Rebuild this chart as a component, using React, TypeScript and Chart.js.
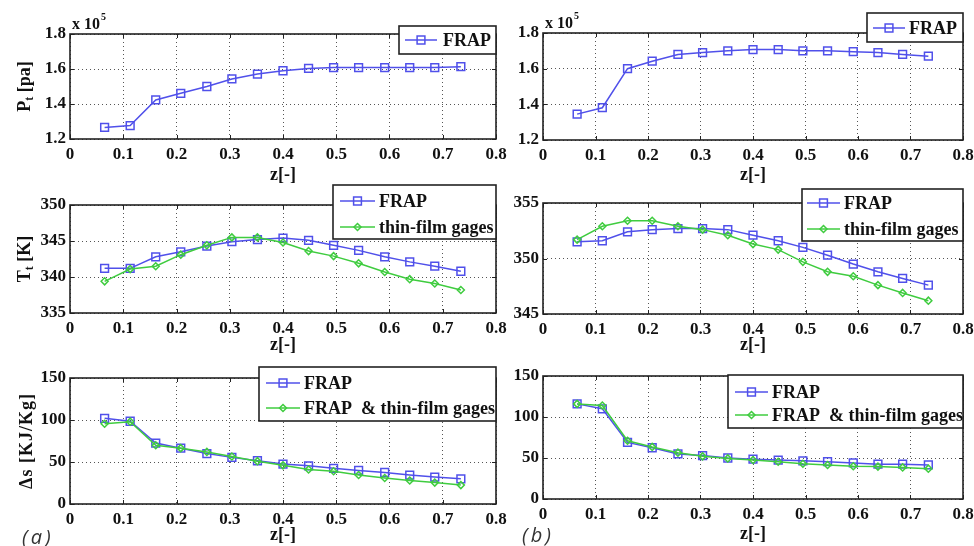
import React, { useEffect, useRef } from 'react';
import { Chart, registerables } from 'chart.js';

Chart.register(...registerables);

// ---------------- data ----------------
const zPositions = [0.065, 0.113, 0.161, 0.208, 0.257, 0.304, 0.352, 0.4, 0.448, 0.495, 0.542, 0.591, 0.638, 0.685, 0.734];
const xTicks = [0, 0.1, 0.2, 0.3, 0.4, 0.5, 0.6, 0.7, 0.8];

// total pressure, in units of 1e5 Pa
const ptFrapA = [1.266, 1.277, 1.423, 1.461, 1.5, 1.543, 1.571, 1.59, 1.603, 1.608, 1.608, 1.608, 1.608, 1.608, 1.613];
const ptFrapB = [1.345, 1.381, 1.6, 1.642, 1.68, 1.69, 1.7, 1.707, 1.707, 1.7, 1.7, 1.695, 1.69, 1.68, 1.67];
const ptTicks = [1.2, 1.4, 1.6, 1.8];

// total temperature [K]
const ttFrapA = [341.2, 341.2, 342.8, 343.5, 344.3, 344.9, 345.2, 345.4, 345.1, 344.4, 343.7, 342.8, 342.1, 341.5, 340.8];
const ttGagesA = [339.4, 341.1, 341.5, 343.1, 344.4, 345.5, 345.5, 344.8, 343.6, 342.9, 341.9, 340.7, 339.7, 339.1, 338.2];
const ttFrapB = [351.5, 351.6, 352.4, 352.6, 352.7, 352.7, 352.6, 352.1, 351.6, 351.0, 350.3, 349.5, 348.8, 348.2, 347.6];
const ttGagesB = [351.7, 352.9, 353.4, 353.4, 352.9, 352.6, 352.1, 351.3, 350.8, 349.7, 348.8, 348.4, 347.6, 346.9, 346.2];
const ttTicksA = [335, 340, 345, 350];
const ttTicksB = [345, 350, 355];

// entropy rise [KJ/Kg]
const dsFrapA = [102, 98.5, 72.5, 66.5, 60, 55.5, 51.5, 47.5, 45.5, 42.5, 40, 37.5, 34.5, 32, 30];
const dsGagesA = [95.5, 98, 70, 66.5, 62, 56.5, 51, 46, 41, 39, 34.5, 31, 28, 25.5, 22.5];
const dsFrapB = [116, 110, 69, 62.5, 55, 53, 50, 48.5, 47.5, 46.5, 45.5, 44, 42.5, 42.5, 41.5];
const dsGagesB = [116, 114, 71, 63.5, 56.5, 52, 49.5, 47.5, 45.5, 43, 41.5, 40, 39.5, 38.5, 37];
const dsTicks = [0, 50, 100, 150];

const labelFrap = 'FRAP';
const labelGages = 'thin-film gages';
const labelFrapGages = 'FRAP  & thin-film gages';
const xTitle = 'z[-]';

// ---------------- styles ----------------
const FONT = "'Liberation Serif', 'Times New Roman', serif";
const BLUE = '#5050ea';
const GREEN = '#3fcc3f';
const FRAME = '#222';
const YW = 40;
const XH = 30;

type Kind = 'frap' | 'gages';
type Series = { label: string; values: number[]; kind: Kind };
type TitlePart = { t: string; sub?: boolean };
type PanelSpec = {
  canvas: { x: number; y: number; w: number; h: number };
  plot: { L: number; R: number; T: number; B: number };
  xTitleY: number;
  yTicks: number[];
  decimals: number;
  series: Series[];
  legend: { x: number; y: number; w: number; h: number; l0: number; l1: number; tx: number; rows: number[] };
  yTitle?: { parts: TitlePart[]; cx: number; spacing?: number };
  exponent?: boolean;
};

const panels: PanelSpec[] = [
  {
    canvas: { x: 0, y: 0, w: 515, h: 192 },
    plot: { L: 70, R: 496, T: 34, B: 139 },
    xTitleY: 175,
    yTicks: ptTicks, decimals: 1,
    series: [{ label: labelFrap, values: ptFrapA, kind: 'frap' }],
    legend: { x: 399, y: 26, w: 97, h: 28, l0: 405, l1: 437, tx: 443, rows: [40] },
    yTitle: { parts: [{ t: 'P' }, { t: 't', sub: true }, { t: ' [pa]' }], cx: 25 },
    exponent: true,
  },
  {
    canvas: { x: 0, y: 180, w: 515, h: 186 },
    plot: { L: 70, R: 496, T: 205, B: 313 },
    xTitleY: 345,
    yTicks: ttTicksA, decimals: 0,
    series: [
      { label: labelFrap, values: ttFrapA, kind: 'frap' },
      { label: labelGages, values: ttGagesA, kind: 'gages' },
    ],
    legend: { x: 333, y: 185, w: 163, h: 54, l0: 340, l1: 375, tx: 379, rows: [201, 227] },
    yTitle: { parts: [{ t: 'T' }, { t: 't', sub: true }, { t: ' [K]' }], cx: 25 },
  },
  {
    canvas: { x: 0, y: 355, w: 515, h: 191 },
    plot: { L: 70, R: 496, T: 378, B: 504 },
    xTitleY: 535,
    yTicks: dsTicks, decimals: 0,
    series: [
      { label: labelFrap, values: dsFrapA, kind: 'frap' },
      { label: labelFrapGages, values: dsGagesA, kind: 'gages' },
    ],
    legend: { x: 259, y: 367, w: 237, h: 54, l0: 266, l1: 300, tx: 304, rows: [383, 408] },
    yTitle: { parts: [{ t: 'Δs [KJ/Kg]' }], cx: 27, spacing: 1 },
  },
  {
    canvas: { x: 495, y: 0, w: 479, h: 192 },
    plot: { L: 543, R: 963, T: 33, B: 140 },
    xTitleY: 175,
    yTicks: ptTicks, decimals: 1,
    series: [{ label: labelFrap, values: ptFrapB, kind: 'frap' }],
    legend: { x: 867, y: 13, w: 96, h: 29, l0: 873, l1: 905, tx: 909, rows: [28] },
    exponent: true,
  },
  {
    canvas: { x: 495, y: 180, w: 479, h: 186 },
    plot: { L: 543, R: 963, T: 203, B: 314 },
    xTitleY: 345,
    yTicks: ttTicksB, decimals: 0,
    series: [
      { label: labelFrap, values: ttFrapB, kind: 'frap' },
      { label: labelGages, values: ttGagesB, kind: 'gages' },
    ],
    legend: { x: 802, y: 189, w: 161, h: 52, l0: 807, l1: 840, tx: 844, rows: [203, 229] },
  },
  {
    canvas: { x: 495, y: 355, w: 479, h: 191 },
    plot: { L: 543, R: 963, T: 376, B: 499 },
    xTitleY: 534,
    yTicks: dsTicks, decimals: 0,
    series: [
      { label: labelFrap, values: dsFrapB, kind: 'frap' },
      { label: labelFrapGages, values: dsGagesB, kind: 'gages' },
    ],
    legend: { x: 728, y: 375, w: 235, h: 53, l0: 735, l1: 768, tx: 772, rows: [392, 415] },
  },
];

function drawMarker(ctx: CanvasRenderingContext2D, kind: Kind, x: number, y: number) {
  ctx.save();
  ctx.lineWidth = 1.5;
  if (kind === 'frap') {
    ctx.strokeStyle = BLUE;
    ctx.beginPath();
    ctx.rect(x - 3.9, y - 3.9, 7.8, 7.8);
    ctx.stroke();
  } else {
    ctx.strokeStyle = GREEN;
    ctx.beginPath();
    ctx.moveTo(x - 3.5, y);
    ctx.lineTo(x, y - 3.5);
    ctx.lineTo(x + 3.5, y);
    ctx.lineTo(x, y + 3.5);
    ctx.closePath();
    ctx.stroke();
  }
  ctx.restore();
}

function makeDeco(spec: PanelSpec) {
  const ox = spec.canvas.x;
  const oy = spec.canvas.y;
  return {
    id: 'deco',
    afterDraw(chart: any) {
      const ctx: CanvasRenderingContext2D = chart.ctx;
      const a = chart.chartArea;
      const xs = chart.scales.x;
      const ys = chart.scales.y;
      ctx.save();
      // inward tick marks
      ctx.strokeStyle = FRAME;
      ctx.lineWidth = 1;
      ctx.beginPath();
      xTicks.forEach((v) => {
        const px = Math.round(xs.getPixelForValue(v)) + 0.5;
        ctx.moveTo(px, a.bottom); ctx.lineTo(px, a.bottom - 4);
        ctx.moveTo(px, a.top); ctx.lineTo(px, a.top + 4);
      });
      spec.yTicks.forEach((v) => {
        const py = Math.round(ys.getPixelForValue(v)) + 0.5;
        ctx.moveTo(a.left, py); ctx.lineTo(a.left + 4, py);
        ctx.moveTo(a.right, py); ctx.lineTo(a.right - 4, py);
      });
      ctx.stroke();
      // frame
      ctx.lineWidth = 1.6;
      ctx.strokeRect(a.left, a.top, a.right - a.left, a.bottom - a.top);

      // x title
      ctx.fillStyle = '#111';
      ctx.font = `bold 18px ${FONT}`;
      ctx.textAlign = 'center';
      ctx.textBaseline = 'middle';
      ctx.fillText(xTitle, (a.left + a.right) / 2, spec.xTitleY - oy);

      // exponent
      if (spec.exponent) {
        ctx.textAlign = 'left';
        ctx.textBaseline = 'alphabetic';
        ctx.font = `bold 16px ${FONT}`;
        const base = 'x 10';
        ctx.fillText(base, a.left + 2, a.top - 5);
        const w = ctx.measureText(base).width;
        ctx.font = `bold 10px ${FONT}`;
        ctx.fillText('5', a.left + 2 + w + 1, a.top - 14);
      }

      // y title (rotated, with subscript)
      if (spec.yTitle) {
        const { parts, cx, spacing } = spec.yTitle;
        const cy = (a.top + a.bottom) / 2;
        ctx.save();
        (ctx as any).letterSpacing = `${spacing || 0}px`;
        const fontFor = (p: TitlePart) => `bold ${p.sub ? 12 : 18}px ${FONT}`;
        let total = 0;
        const widths = parts.map((p) => {
          ctx.font = fontFor(p);
          const w = ctx.measureText(p.t).width;
          total += w;
          return w;
        });
        ctx.translate(cx, cy);
        ctx.rotate(-Math.PI / 2);
        ctx.textAlign = 'left';
        ctx.textBaseline = 'middle';
        ctx.fillStyle = '#111';
        let x = -total / 2;
        parts.forEach((p, i) => {
          ctx.font = fontFor(p);
          ctx.fillText(p.t, x, p.sub ? 5 : 0);
          x += widths[i];
        });
        ctx.restore();
      }

      // legend box
      const lg = spec.legend;
      ctx.fillStyle = '#fff';
      ctx.fillRect(lg.x - ox, lg.y - oy, lg.w, lg.h);
      ctx.strokeStyle = FRAME;
      ctx.lineWidth = 1.6;
      ctx.strokeRect(lg.x - ox, lg.y - oy, lg.w, lg.h);
      spec.series.forEach((s, i) => {
        const ry = lg.rows[i] - oy;
        ctx.strokeStyle = s.kind === 'frap' ? BLUE : GREEN;
        ctx.lineWidth = 1.5;
        ctx.beginPath();
        ctx.moveTo(lg.l0 - ox, ry);
        ctx.lineTo(lg.l1 - ox, ry);
        ctx.stroke();
        drawMarker(ctx, s.kind, (lg.l0 + lg.l1) / 2 - ox, ry);
        ctx.fillStyle = '#111';
        ctx.font = `bold 18px ${FONT}`;
        ctx.textAlign = 'left';
        ctx.textBaseline = 'middle';
        ctx.fillText(s.label, lg.tx - ox, ry + 1);
      });
      ctx.restore();
    },
  };
}

function Panel({ spec }: { spec: PanelSpec }) {
  const ref = useRef<HTMLCanvasElement>(null);
  useEffect(() => {
    const cv = ref.current;
    if (!cv) return;
    const c = spec.canvas;
    const p = spec.plot;
    const tickFont = { family: FONT, size: 17, weight: 'bold' as const };
    const chart = new Chart(cv, {
      type: 'line',
      data: {
        datasets: spec.series.map((s) => ({
          label: s.label,
          data: zPositions.map((z, i) => ({ x: z, y: s.values[i] })),
          borderColor: s.kind === 'frap' ? BLUE : GREEN,
          borderWidth: 1.5,
          pointStyle: s.kind === 'frap' ? 'rect' : 'rectRot',
          pointRadius: s.kind === 'frap' ? 5.5 : 3.5,
          pointBorderColor: s.kind === 'frap' ? BLUE : GREEN,
          pointBackgroundColor: 'rgba(255,255,255,0)',
          pointBorderWidth: 1.5,
          tension: 0,
          fill: false,
          order: s.kind === 'frap' ? 1 : 0,
        })),
      },
      options: {
        responsive: false,
        animation: false,
        devicePixelRatio: 1,
        events: [],
        layout: {
          padding: {
            left: p.L - c.x - YW,
            right: c.x + c.w - p.R,
            top: p.T - c.y,
            bottom: c.y + c.h - p.B - XH,
          },
        },
        plugins: { legend: { display: false }, tooltip: { enabled: false } },
        scales: {
          x: {
            type: 'linear',
            min: 0,
            max: 0.8,
            afterBuildTicks: (scale: any) => {
              scale.ticks = xTicks.map((v) => ({ value: v }));
            },
            afterFit: (scale: any) => {
              scale.height = XH;
              scale.paddingLeft = 0;
              scale.paddingRight = 0;
            },
            ticks: {
              autoSkip: false,
              maxRotation: 0,
              padding: 5,
              color: '#111',
              font: tickFont,
              callback: (v: any) => (Number(v) === 0 ? '0' : Number(v).toFixed(1)),
            },
            grid: { color: '#555', lineWidth: 1, drawTicks: false },
            border: { display: false, dash: [1, 3] },
          },
          y: {
            type: 'linear',
            min: spec.yTicks[0],
            max: spec.yTicks[spec.yTicks.length - 1],
            afterBuildTicks: (scale: any) => {
              scale.ticks = spec.yTicks.map((v) => ({ value: v }));
            },
            afterFit: (scale: any) => {
              scale.width = YW;
              scale.paddingTop = 0;
              scale.paddingBottom = 0;
            },
            ticks: {
              autoSkip: false,
              padding: 4,
              color: '#111',
              font: tickFont,
              callback: (v: any) => Number(v).toFixed(spec.decimals),
            },
            grid: { color: '#555', lineWidth: 1, drawTicks: false },
            border: { display: false, dash: [1, 3] },
          },
        },
      },
      plugins: [makeDeco(spec)],
    } as any);
    return () => chart.destroy();
  }, [spec]);
  const c = spec.canvas;
  return (
    <canvas
      ref={ref}
      width={c.w}
      height={c.h}
      style={{ position: 'absolute', left: c.x, top: c.y, width: c.w, height: c.h }}
    />
  );
}

export default function App() {
  const tag: React.CSSProperties = {
    position: 'absolute',
    fontFamily: "'Open Sans', 'DejaVu Sans', sans-serif",
    fontStyle: 'italic',
    fontSize: 20,
    color: '#333',
    letterSpacing: 3,
    lineHeight: '20px',
  };
  return (
    <div style={{ position: 'absolute', left: 0, top: 0, width: 974, height: 546, background: '#fff', overflow: 'hidden' }}>
      {panels.map((s, i) => (
        <Panel key={i} spec={s} />
      ))}
      <div style={{ ...tag, left: 22, top: 527 }}>(a)</div>
      <div style={{ ...tag, left: 522, top: 525 }}>(b)</div>
    </div>
  );
}
